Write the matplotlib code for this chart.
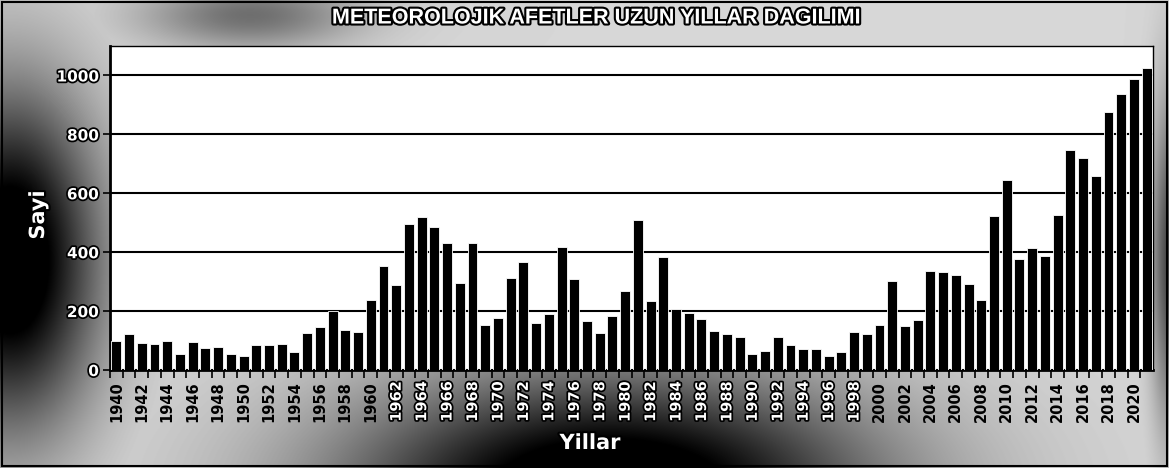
import numpy as np
from matplotlib import pyplot as plt
from matplotlib import patheffects as pe

# Yearly counts
years = list(range(1940, 2022))
counts = [99, 122, 91, 87, 99, 53, 96, 74, 79, 54,
          46, 84, 84, 88, 60, 126, 145, 200, 135, 130,
          237, 353, 287, 497, 521, 484, 432, 294, 430, 154,
          177, 313, 365, 158, 190, 416, 310, 167, 126, 184,
          267, 510, 233, 384, 208, 194, 172, 134, 121, 112,
          53, 66, 113, 85, 72, 72, 48, 62, 128, 121,
          154, 302, 150, 170, 336, 332, 322, 291, 236, 523,
          644, 376, 414, 387, 527, 748, 721, 659, 876, 937,
          988, 1026]
year_labels = [str(y) if y % 2 == 0 else '' for y in years]

W, H = 1169, 468


def darkness(px, py):
    # scanned-look background: dark on the left edge and under the middle of the x axis
    left = np.exp(-((px - 10) / 90.0) ** 2 - ((py - 260) / 170.0) ** 2)
    bottom = np.exp(-((px - 610) / 270.0) ** 2 - ((py - 490) / 120.0) ** 2)
    right = 0.55 * np.exp(-((px - 1169) / 18.0) ** 2 - ((py - 260) / 160.0) ** 2)
    top = 0.4 * np.exp(-((px - 250) / 110.0) ** 2 - ((py - 15) / 35.0) ** 2)
    d = np.maximum.reduce([left, bottom, right, top])
    return np.clip(d * 1.2, 0, 1)


gx, gy = np.meshgrid(np.arange(W), np.arange(H))
bg = 0.84 - 0.84 * darkness(gx, gy)

fig = plt.figure(figsize=(W / 100, H / 100), dpi=100)
bg_ax = fig.add_axes([0, 0, 1, 1], zorder=0)
bg_ax.imshow(bg, cmap='gray', vmin=0, vmax=1, aspect='auto')
bg_ax.set_axis_off()
fig.patches.append(plt.Rectangle((0.002, 0.004), 0.996, 0.992, transform=fig.transFigure,
                                 fill=False, edgecolor='black', linewidth=1.5))

ax = fig.add_axes([110 / W, 1 - 370 / H, (1153 - 110) / W, (370 - 46) / H], zorder=1)
ax.set_facecolor('white')
x = np.arange(len(years))
ax.bar(x, counts, width=0.78, color='black', edgecolor='white', linewidth=0.6, zorder=3)

ax.set_xlim(-0.5, len(years) - 0.5)
ax.set_ylim(0, 1100)
ax.yaxis.grid(True, color='black', linewidth=1.5, zorder=1)
ax.set_axisbelow(True)
for s in ax.spines.values():
    s.set_linewidth(1.0)
    s.set_color('black')
ax.spines['bottom'].set_linewidth(2)
ax.spines['left'].set_linewidth(2)

outline = [pe.withStroke(linewidth=2.5, foreground='black')]
ax.set_yticks(range(0, 1001, 200))
ax.set_yticklabels([str(v) for v in range(0, 1001, 200)], fontsize=11, fontweight='bold',
                   color='white', path_effects=outline)
ax.tick_params(axis='y', length=5, width=1.2, pad=3)

ax.set_xticks(x)
ax.set_xticklabels(year_labels, rotation=90, fontsize=10.5, fontweight='bold')
ax.set_xticks(x - 0.5, minor=True)
ax.tick_params(axis='x', which='major', length=0, pad=8)
ax.tick_params(axis='x', which='minor', length=6, width=1.2)
# labels over the dark band are drawn white with an outline
for yr, lab in zip(years, ax.get_xticklabels()):
    if 1962 <= yr <= 1998:
        lab.set_color('white')
        lab.set_path_effects(outline)
    else:
        lab.set_color('black')

title_fx = [pe.withStroke(linewidth=3, foreground='black')]
fig.text(595 / W, 1 - 18 / H, 'METEOROLOJIK AFETLER UZUN YILLAR DAGILIMI', ha='center', va='center',
         fontsize=15.5, fontweight='bold', family='Liberation Sans', color='white',
         path_effects=title_fx)
fig.text(38 / W, 1 - 215 / H, 'Sayi', rotation=90, ha='center', va='center', fontsize=15,
         fontweight='bold', color='white', path_effects=title_fx)
fig.text(590 / W, 1 - 443 / H, 'Yillar', ha='center', va='center', fontsize=15,
         fontweight='bold', color='white', path_effects=title_fx)

fig.savefig('out.png', dpi=100)
